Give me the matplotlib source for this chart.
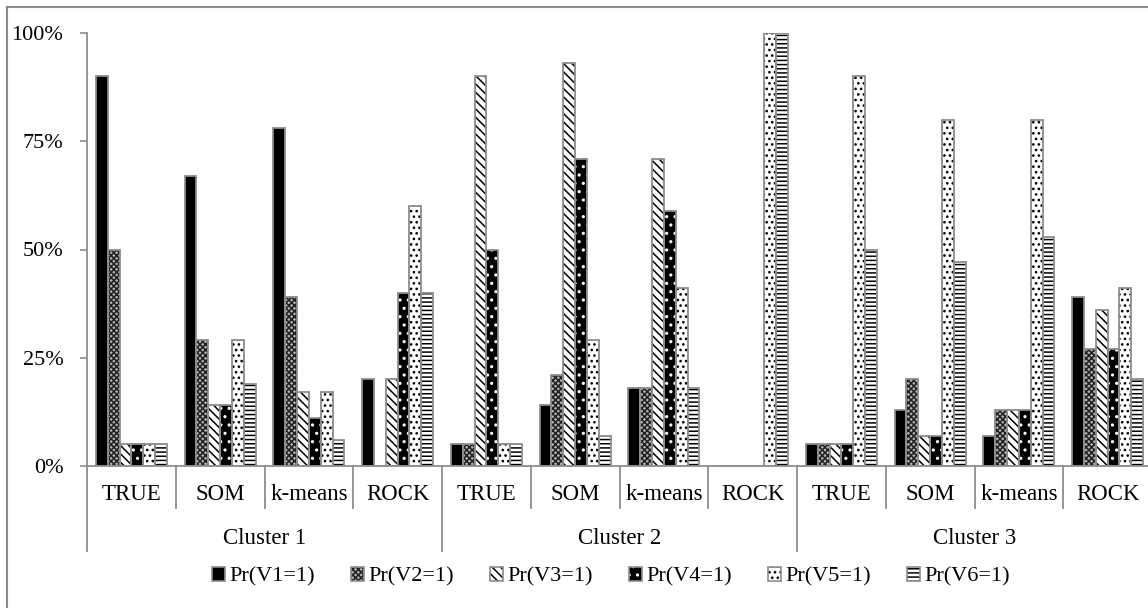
import numpy as np
import matplotlib
matplotlib.use('Agg')
import matplotlib.pyplot as plt
from matplotlib.patches import Patch
from matplotlib.lines import Line2D
from matplotlib.legend_handler import HandlerTuple
import matplotlib.transforms as mtransforms
from matplotlib.ticker import PercentFormatter

plt.rcParams['font.family'] = ['Liberation Serif', 'DejaVu Serif']
plt.rcParams['hatch.linewidth'] = 1.1

clusters = ['Cluster 1', 'Cluster 2', 'Cluster 3']
methods = ['TRUE', 'SOM', 'k-means', 'ROCK']
series_names = ['Pr(V1=1)', 'Pr(V2=1)', 'Pr(V3=1)', 'Pr(V4=1)', 'Pr(V5=1)', 'Pr(V6=1)']

v1 = [90, 67, 78, 20, 5, 14, 18, 0, 5, 13, 7, 39]
v2 = [50, 29, 39, 0, 5, 21, 18, 0, 5, 20, 13, 27]
v3 = [5, 14, 17, 20, 90, 93, 71, 0, 5, 7, 13, 36]
v4 = [5, 14, 11, 40, 50, 71, 59, 0, 5, 7, 13, 27]
v5 = [5, 29, 17, 60, 5, 29, 41, 100, 90, 80, 80, 41]
v6 = [5, 19, 6, 40, 5, 7, 18, 100, 50, 47, 53, 20]
series_values = [v1, v2, v3, v4, v5, v6]

# (facecolor, hatch, hatchcolor)
styles = [
    ('black', None, 'black'),
    ('#b0b0b0', 'xxxxxx', '#202020'),
    ('white', '\\\\\\\\', 'black'),
    ('black', '..', 'white'),
    ('white', '...', 'black'),
    ('white', '----', 'black'),
]
edge_gray = '#8c8c8c'

W, H = 1148, 608
fig = plt.figure(figsize=(W / 100, H / 100), dpi=100)
ax_left, ax_right = 87, 1152
ax_top, ax_bot = 33, 466
ax = fig.add_axes([ax_left / W, (H - ax_bot) / H, (ax_right - ax_left) / W, (ax_bot - ax_top) / H])

n_cat = len(clusters) * len(methods)
x = np.arange(n_cat)
group_w = 0.8
bw = group_w / len(series_values)

handles = []
for i, (vals, (fc, hatch, hc)) in enumerate(zip(series_values, styles)):
    pos = x - group_w / 2 + bw * (i + 0.5)
    vals = np.array(vals) / 100.0
    ax.bar(pos, vals, bw, facecolor=fc, edgecolor=hc, hatch=hatch, linewidth=0, zorder=2)
    ax.bar(pos, vals, bw, facecolor='none', edgecolor=edge_gray, linewidth=1.3, zorder=3)
    p1 = Patch(facecolor=fc, edgecolor=hc, hatch=hatch, linewidth=0)
    p2 = Patch(facecolor='none', edgecolor=edge_gray, linewidth=1.2)
    handles.append((p1, p2))

ax.set_xlim(-0.5, n_cat - 0.5)
ax.set_ylim(0, 1)
ax.yaxis.set_major_formatter(PercentFormatter(1.0, decimals=0))
ax.set_yticks([0, 0.25, 0.5, 0.75, 1.0])
ax.tick_params(axis='y', direction='out', length=5, width=1.2, color=edge_gray, pad=12, labelsize=16)
ax.set_xticks([])
for s in ['top', 'right']:
    ax.spines[s].set_visible(False)
for s in ['left', 'bottom']:
    ax.spines[s].set_color(edge_gray)
    ax.spines[s].set_linewidth(1.3)

trans = mtransforms.blended_transform_factory(ax.transData, ax.transAxes)
axh = ax_bot - ax_top
short = 42 / axh
long_ = 85 / axh
for b in range(n_cat + 1):
    xb = b - 0.5
    L = long_ if b % len(methods) == 0 else short
    ax.add_line(Line2D([xb, xb], [0, -L], transform=trans, color=edge_gray, lw=1.3, clip_on=False))

for i in range(n_cat):
    ax.text(x[i], -29 / axh, methods[i % len(methods)], transform=trans, ha='center', va='center', fontsize=16.5)
for c, name in enumerate(clusters):
    cx = c * len(methods) + (len(methods) - 1) / 2
    ax.text(cx, -72 / axh, name, transform=trans, ha='center', va='center', fontsize=16.5)

leg = fig.legend(handles, series_names, loc='center', bbox_to_anchor=(611 / W, (H - 577) / H), ncol=6,
                 frameon=False, fontsize=16, handlelength=0.6, handleheight=0.6, handletextpad=0.2,
                 columnspacing=1.6,
                 handler_map={tuple: HandlerTuple(ndivide=1)})

# outer border (left and top visible)
fig.add_artist(Line2D([7 / W, 7 / W], [0, (H - 7) / H], transform=fig.transFigure, color=edge_gray, lw=1.5))
fig.add_artist(Line2D([7 / W, 1], [(H - 7) / H, (H - 7) / H], transform=fig.transFigure, color=edge_gray, lw=1.5))

fig.savefig('out.png', dpi=100)
